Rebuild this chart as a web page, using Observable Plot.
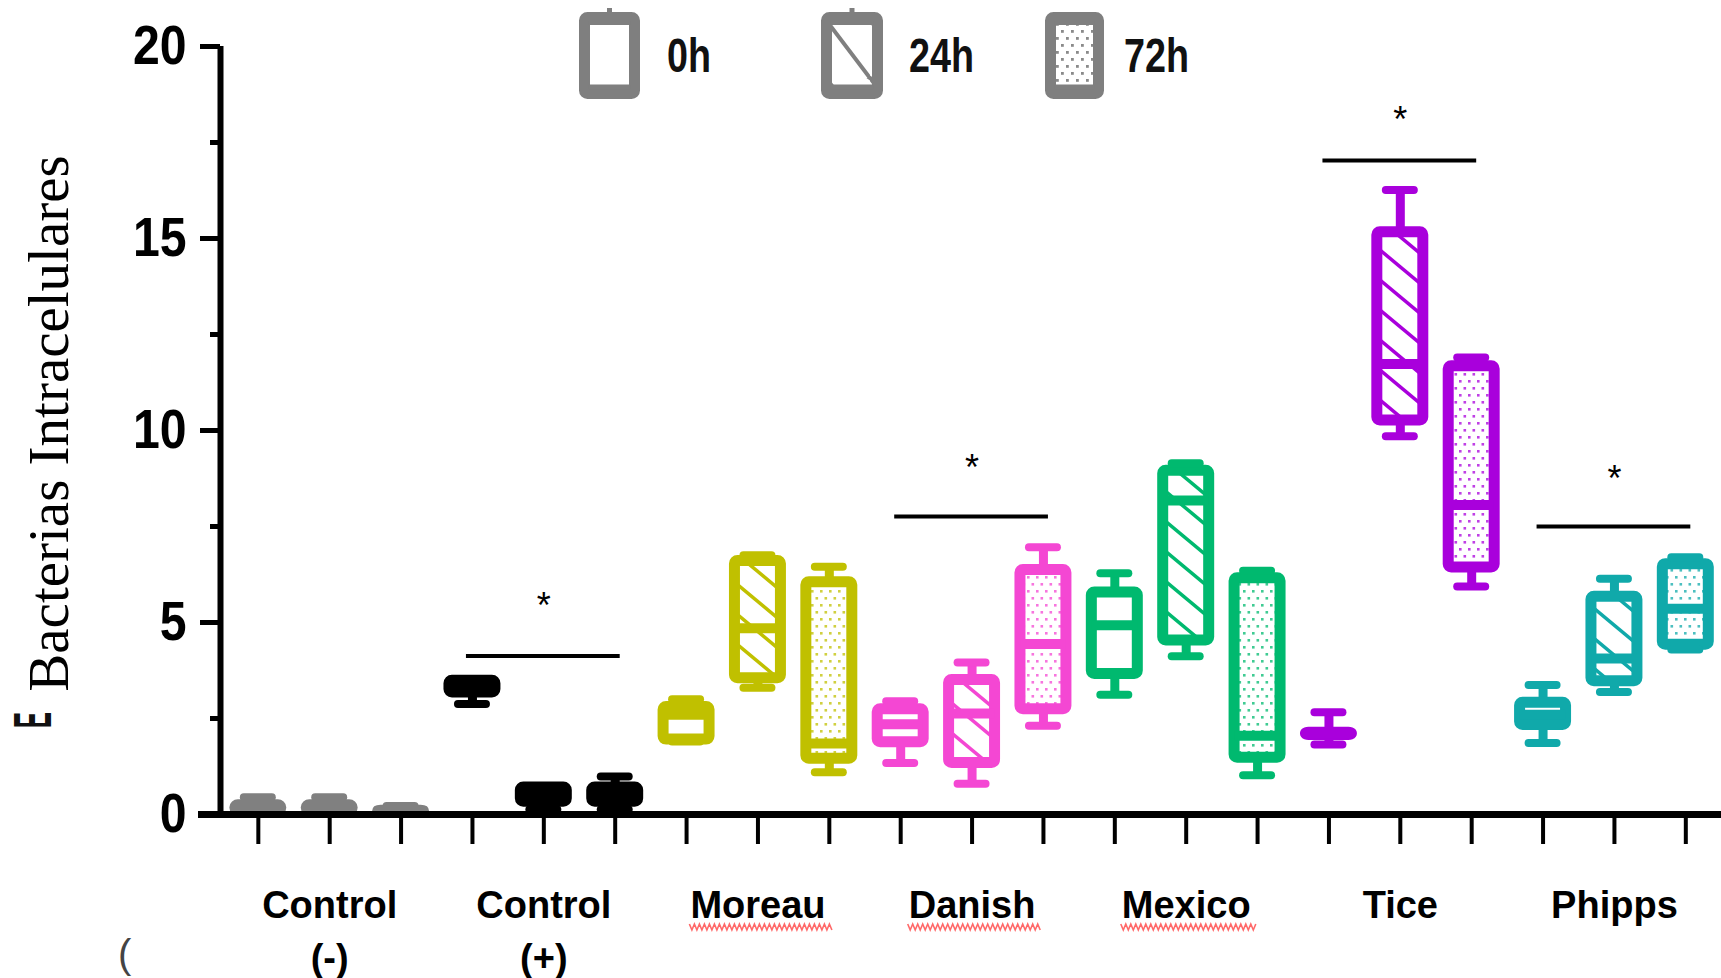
<!DOCTYPE html>
<html>
<head>
<meta charset="utf-8">
<script src="https://cdn.jsdelivr.net/npm/d3@7"></script>
<script src="https://cdn.jsdelivr.net/npm/@observablehq/plot@0.6"></script>
<style>
html, body { margin: 0; padding: 0; background: #ffffff; }
#wrap { position: relative; width: 1721px; height: 978px; overflow: hidden; background: #ffffff; }
#overlay { position: absolute; left: 0; top: 0; pointer-events: none; }
#defs { position: absolute; left: 0; top: 0; }
</style>
</head>
<body>
<div id="wrap"></div>
<script>
// ---------------- data ----------------
const groups = ["Control\n(-)", "Control\n(+)", "Moreau", "Danish", "Mexico", "Tice", "Phipps"];
const times = ["0h", "24h", "72h"];
const groupColors = ["#808080", "#000000", "#c0c000", "#f447d3", "#00b96f", "#a900dc", "#10a9aa"];

// one value per box, group-major order (group x time)
const mins    = [0.05, 0.05, 0.02,  2.88, 0.13, 0.13,  1.90, 3.30, 1.10,  1.34, 0.80, 2.31,  3.12, 4.12, 1.02,  1.82,  9.85, 5.94,  1.86, 3.19, 4.30];
const q1s     = [0.10, 0.10, 0.05,  3.18, 0.33, 0.33,  1.95, 3.55, 1.45,  1.88, 1.34, 2.74,  3.66, 4.53, 1.48,  2.07, 10.26, 6.43,  2.33, 3.47, 4.42];
const medians = [0.15, 0.15, 0.07,  3.30, 0.50, 0.50,  2.60, 4.85, 1.85,  2.35, 2.63, 4.44,  4.93, 8.18, 2.05,  2.10, 11.73, 8.06,  2.60, 4.06, 5.36];
const q3s     = [0.24, 0.24, 0.10,  3.48, 0.70, 0.70,  2.80, 6.60, 6.05,  2.74, 3.50, 6.37,  5.78, 8.95, 6.15,  2.13, 15.16, 11.67, 2.91, 5.67, 6.52];
const maxs    = [0.45, 0.45, 0.22,  3.48, 0.70, 0.99,  3.00, 6.75, 6.45,  2.95, 3.96, 6.96,  6.28, 9.15, 6.35,  2.66, 16.26, 11.90, 3.37, 6.14, 6.70];

const sigGroupNames = ["Control\n(+)", "Danish", "Tice", "Phipps"];
const sigLineValues = [4.13, 7.76, 17.03, 7.50];
const sigStarValues = [5.57, 9.17, 18.24, 8.88];

const yMajorTicks = [0, 5, 10, 15, 20];
const yMinorTicks = [2.5, 7.5, 12.5, 17.5];
const yLabel = "Bacterias Intracelulares";
const underlinedLabels = ["Moreau", "Danish", "Mexico"];

// ---------------- patterns ----------------
const wrap = document.getElementById("wrap");
let defs = "";
groupColors.forEach((c, i) => {
  defs += `<pattern id="hatch-${i}" patternUnits="userSpaceOnUse" width="36" height="30">
    <rect width="36" height="30" fill="#ffffff"/>
    <path d="M-2,-1.67 L38,31.67 M-4,26.67 L4,33.33 M32,-3.33 L40,3.33" stroke="${c}" stroke-width="3.5" fill="none"/>
  </pattern>
  <pattern id="dots-${i}" patternUnits="userSpaceOnUse" width="9" height="14">
    <rect width="9" height="14" fill="#ffffff"/>
    <rect x="1" y="2" width="2.6" height="2.6" fill="${c}" fill-opacity="0.75"/>
    <rect x="5.5" y="9" width="2.6" height="2.6" fill="${c}" fill-opacity="0.75"/>
  </pattern>`;
});
defs += `<pattern id="hatch-legend" patternUnits="userSpaceOnUse" width="44" height="58" x="826" y="20">
    <rect width="44" height="58" fill="#ffffff"/>
    <path d="M-3,-4 L47,62 M-6,54 L6,62 M38,-4 L50,4" stroke="#7f7f7f" stroke-width="4" fill="none"/>
  </pattern>
  <pattern id="dots-legend" patternUnits="userSpaceOnUse" width="10" height="14">
    <rect width="10" height="14" fill="#ffffff"/>
    <rect x="1" y="2" width="2.8" height="2.8" fill="#8a8a8a"/>
    <rect x="6" y="9" width="2.8" height="2.8" fill="#8a8a8a"/>
  </pattern>`;
wrap.insertAdjacentHTML("beforeend", `<svg id="defs" width="0" height="0"><defs>${defs}</defs></svg>`);

// ---------------- chart ----------------
const data = d3.range(groups.length * times.length).map(i => ({
  slot: i,
  gi: Math.floor(i / times.length),
  time: times[i % times.length],
  min: mins[i], q1: q1s[i], med: medians[i], q3: q3s[i], max: maxs[i]
}));
const sigData = sigGroupNames.map((g, k) => ({
  slot0: groups.indexOf(g) * times.length,
  line: sigLineValues[k],
  star: sigStarValues[k]
}));

const col = d => groupColors[d.gi];
const fillOf = d => d.time === "0h" ? "#ffffff" : `url(#${d.time === "24h" ? "hatch" : "dots"}-${d.gi})`;
const left = d => d.slot - 0.5;
const right = d => d.slot + 0.5;
const xDomain = [-0.53, groups.length * times.length - 0.5];

const chart = Plot.plot({
  width: 1721,
  height: 978,
  marginLeft: 220,
  marginRight: 0,
  marginTop: 46,
  marginBottom: 164,
  x: {type: "linear", domain: xDomain, axis: null},
  y: {domain: [0, 20], axis: null},
  color: {type: "identity"},
  style: {fontFamily: "'Liberation Sans', Arial, sans-serif", background: "transparent", color: "#000", overflow: "visible"},
  marks: [
    // whiskers
    Plot.ruleX(data, {x: "slot", y1: "min", y2: "max", stroke: col, strokeWidth: 9}),
    // boxes
    Plot.rectY(data, {x1: left, x2: right, y1: "q1", y2: "q3", fill: fillOf, stroke: col, strokeWidth: 11,
      insetLeft: 12.7, insetRight: 12.7, rx: 3, strokeLinejoin: "round"}),
    // medians
    Plot.ruleY(data, {y: "med", x1: left, x2: right, insetLeft: 13, insetRight: 13, stroke: col, strokeWidth: 10}),
    // caps
    Plot.ruleY(data, {y: "min", x1: left, x2: right, insetLeft: 21.7, insetRight: 21.7, stroke: col, strokeWidth: 8, strokeLinecap: "round"}),
    Plot.ruleY(data, {y: "max", x1: left, x2: right, insetLeft: 21.7, insetRight: 21.7, stroke: col, strokeWidth: 8, strokeLinecap: "round"}),
    // significance
    Plot.ruleY(sigData, {y: "line", x1: "slot0", x2: d => d.slot0 + 2, insetLeft: -6, insetRight: -5, stroke: "#000", strokeWidth: 4}),
    Plot.text(sigData, {x: d => d.slot0 + 1, y: "star", text: () => "*", fontSize: 36, dy: 6, fill: "#000"}),
    // axes
    Plot.axisY(yMajorTicks, {tickSize: 20, strokeWidth: 5, tickPadding: 14, fontSize: 56, fontWeight: "bold", label: null, fill: "#000", stroke: "#000"}),
    Plot.axisY(yMinorTicks, {tickSize: 10, strokeWidth: 5, tickFormat: () => "", label: null, stroke: "#000"}),
    Plot.axisX(d3.range(groups.length * times.length), {tickSize: 30, strokeWidth: 4, tickFormat: () => "", label: null, stroke: "#000"}),
    Plot.ruleX([xDomain[0]], {y1: 0, y2: 20, stroke: "#000", strokeWidth: 6}),
    Plot.ruleY([0], {stroke: "#000", strokeWidth: 7, insetLeft: -22}),
    // group labels
    Plot.text(groups, {x: (d, i) => i * times.length + 1, text: d => d, frameAnchor: "bottom", lineAnchor: "top",
      dy: 66, fontSize: 38, fontWeight: "bold", lineHeight: 1.39, fill: "#000"}),
    // y label
    Plot.text([yLabel], {text: d => d, frameAnchor: "left", textAnchor: "middle", rotate: -90, dx: -171, dy: -7,
      fontFamily: "'Liberation Serif', 'Times New Roman', serif", fontSize: 57, fill: "#000"})
  ]
});
wrap.appendChild(chart);

// condense y tick labels
chart.querySelectorAll('g[aria-label="y-axis tick label"] text').forEach(t => {
  const len = t.getComputedTextLength();
  if (len > 0) {
    t.setAttribute("textLength", (len * 0.86).toFixed(1));
    t.setAttribute("lengthAdjust", "spacingAndGlyphs");
  }
});

// ---------------- legend overlay ----------------
const legendItems = [
  {label: times[0], fill: "#ffffff", bx: 584.5, bw: 50, tx: 667, tw: 44, stub: true},
  {label: times[1], fill: "url(#hatch-legend)", bx: 826.5, bw: 51, tx: 909, tw: 65, stub: true},
  {label: times[2], fill: "url(#dots-legend)", bx: 1050.5, bw: 48, tx: 1124, tw: 65, stub: false}
];
let ov = `<svg id="overlay" width="1721" height="978" xmlns="http://www.w3.org/2000/svg">`;
legendItems.forEach(it => {
  const cx = it.bx + it.bw / 2;
  if (it.stub) ov += `<line x1="${cx}" x2="${cx}" y1="8" y2="18" stroke="#7f7f7f" stroke-width="5"/>`;
  ov += `<rect x="${it.bx}" y="17.5" width="${it.bw}" height="76" rx="3" fill="${it.fill}" stroke="#7f7f7f" stroke-width="11"/>`;
  ov += `<line x1="${it.bx + 4}" x2="${it.bx + it.bw - 4}" y1="23" y2="23" stroke="#7f7f7f" stroke-width="4"/>`;
  ov += `<line x1="${it.bx + 4}" x2="${it.bx + it.bw - 4}" y1="87" y2="87" stroke="#7f7f7f" stroke-width="5"/>`;
  ov += `<text x="${it.tx}" y="72" font-family="'Liberation Sans', Arial, sans-serif" font-weight="bold" font-size="48" fill="#111" textLength="${it.tw}" lengthAdjust="spacingAndGlyphs">${it.label}</text>`;
});
ov += `<text transform="translate(51,720) rotate(-90) scale(0.45,1)" text-anchor="middle" font-family="'Liberation Sans', Arial, sans-serif" font-weight="bold" font-size="53" fill="#111">E</text>`;
ov += `<text x="118" y="968" font-family="'Liberation Sans', Arial, sans-serif" font-size="40" fill="#444">(</text>`;

// spell-check style wavy underlines under some labels (positions measured from rendered text)
const wrapRect = wrap.getBoundingClientRect();
chart.querySelectorAll("text").forEach(t => {
  if (!underlinedLabels.includes(t.textContent)) return;
  const r = t.getBoundingClientRect();
  const x0 = r.left - wrapRect.left - 1, x1 = r.right - wrapRect.left + 7;
  const yc = r.bottom - wrapRect.top + 1;
  let p = `M${x0},${yc - 3}`;
  let up = false;
  for (let x = x0 + 2.5; x <= x1; x += 2.5) { p += ` L${x.toFixed(1)},${up ? yc - 3 : yc + 3}`; up = !up; }
  ov += `<path d="${p}" fill="none" stroke="#ff4f4f" stroke-width="1.6" stroke-opacity="0.85"/>`;
});
ov += `</svg>`;
wrap.insertAdjacentHTML("beforeend", ov);
</script>
</body>
</html>
